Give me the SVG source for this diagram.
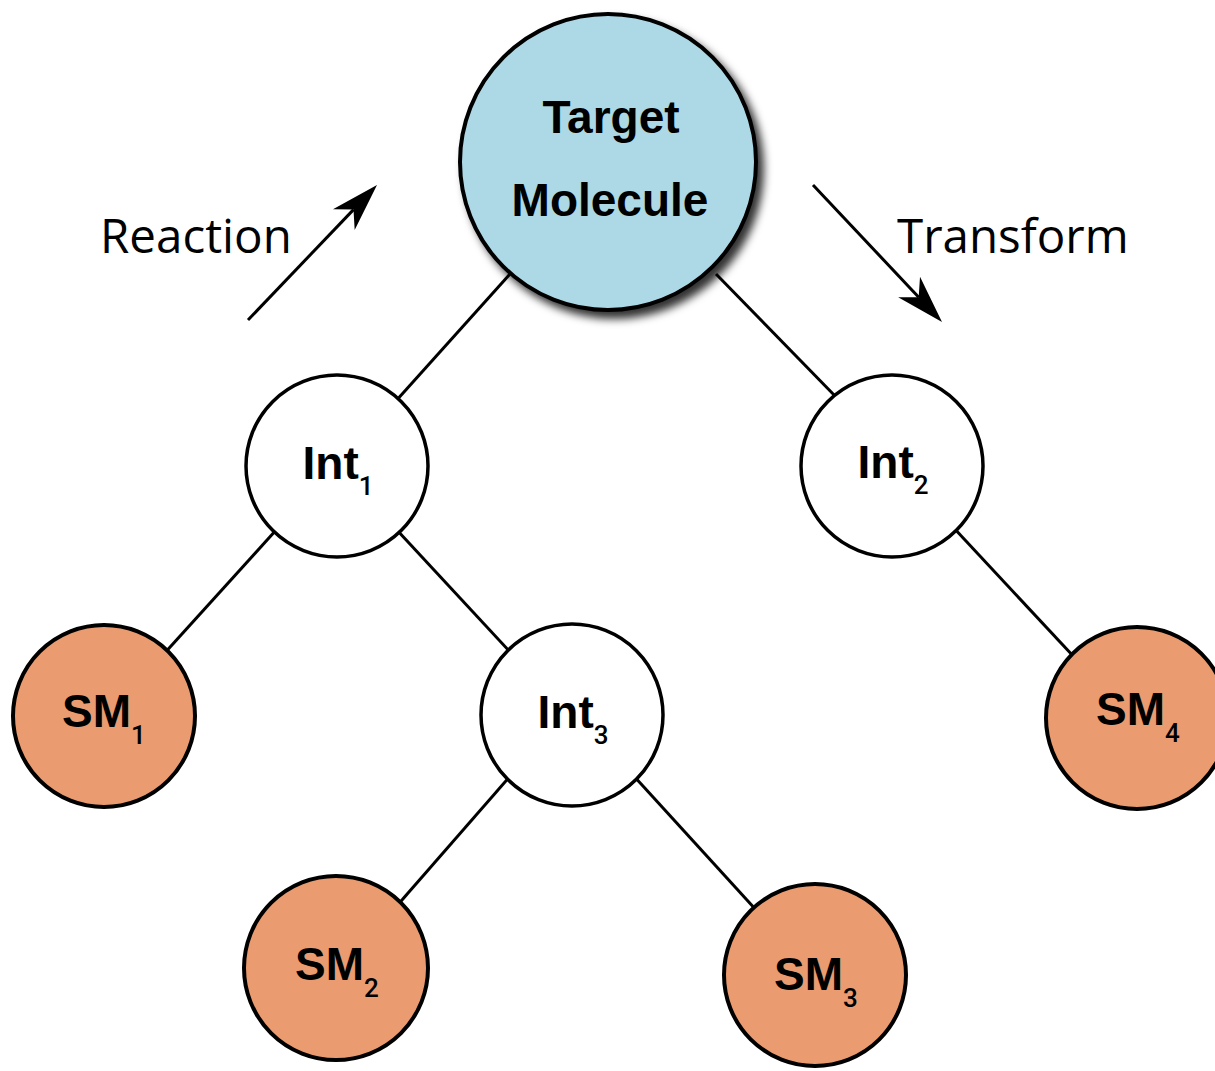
<svg xmlns="http://www.w3.org/2000/svg" width="1215" height="1071" viewBox="0 0 1215 1071">
<style>
.edge{stroke:#000;stroke-width:3;fill:none}
.arrow{stroke:#000;stroke-width:3;fill:none}
.target{fill:#ADD8E6;stroke:#000;stroke-width:4}
.int{fill:#fff;stroke:#000;stroke-width:3.5}
.sm{fill:#EA9B6F;stroke:#000;stroke-width:4}
.nl{font-family:"Liberation Sans",Arial,sans-serif;font-weight:bold;font-size:46px;fill:#000;text-anchor:middle}
.sub{font-size:26px;font-weight:500;font-family:Roboto,"Liberation Sans",Arial,sans-serif}
.lbl{font-family:"Open Sans","Noto Sans",sans-serif;font-size:47.5px;fill:#000}
</style>
<defs>
<filter id="shadow" x="-20%" y="-20%" width="150%" height="150%">
<feDropShadow dx="6" dy="7" stdDeviation="4" flood-color="#000" flood-opacity="0.8"/>
</filter>
<marker id="ah" markerUnits="userSpaceOnUse" markerWidth="60" markerHeight="40" viewBox="-20 -20 60 40" refX="0" refY="0" orient="auto">
<path d="M34,0 L-14,-15 L0,0 L-14,15 Z" fill="#000"/>
</marker>
</defs>
<g id="connectors">
<line class="edge" x1="510" y1="274" x2="395" y2="402"/>
<line class="edge" x1="716" y1="274" x2="838" y2="399"/>
<line class="edge" x1="277" y1="529" x2="162" y2="656"/>
<line class="edge" x1="396" y1="529" x2="512" y2="654"/>
<line class="edge" x1="952" y1="526" x2="1075" y2="658"/>
<line class="edge" x1="512" y1="774" x2="395" y2="908"/>
<line class="edge" x1="632" y1="774" x2="757" y2="911"/>
<line class="arrow" x1="248" y1="320" x2="353.5" y2="209.6" marker-end="url(#ah)"/>
<line class="arrow" x1="813" y1="185" x2="918.7" y2="297.2" marker-end="url(#ah)"/>
</g>
<g id="label-reaction"><text class="lbl" x="100" y="253">Reaction</text></g>
<g id="label-transform"><text class="lbl" x="897" y="253">Transform</text></g>
<g id="target">
<circle class="target" cx="608" cy="162" r="148" filter="url(#shadow)"/>
<text class="nl" x="611" y="133" font-size="48">Target</text>
<text class="nl" x="610" y="216" font-size="48">Molecule</text>
</g>
<g id="int1">
<circle class="int" cx="337" cy="466" r="91"/>
<text class="nl" x="338" y="479">Int<tspan class="sub" dy="16">1</tspan></text>
</g>
<g id="int2">
<circle class="int" cx="892" cy="466" r="91"/>
<text class="nl" x="893" y="478">Int<tspan class="sub" dy="16">2</tspan></text>
</g>
<g id="int3">
<circle class="int" cx="572" cy="715" r="91"/>
<text class="nl" x="573" y="728">Int<tspan class="sub" dy="16">3</tspan></text>
</g>
<g id="sm1">
<circle class="sm" cx="104" cy="716" r="91"/>
<text class="nl" x="104" y="727">SM<tspan class="sub" dy="17">1</tspan></text>
</g>
<g id="sm2">
<circle class="sm" cx="336" cy="968" r="92"/>
<text class="nl" x="337" y="980">SM<tspan class="sub" dy="17">2</tspan></text>
</g>
<g id="sm3">
<circle class="sm" cx="815" cy="975" r="91"/>
<text class="nl" x="816" y="990">SM<tspan class="sub" dy="17">3</tspan></text>
</g>
<g id="sm4">
<circle class="sm" cx="1137" cy="718" r="91"/>
<text class="nl" x="1138" y="725">SM<tspan class="sub" dy="17">4</tspan></text>
</g>
</svg>
